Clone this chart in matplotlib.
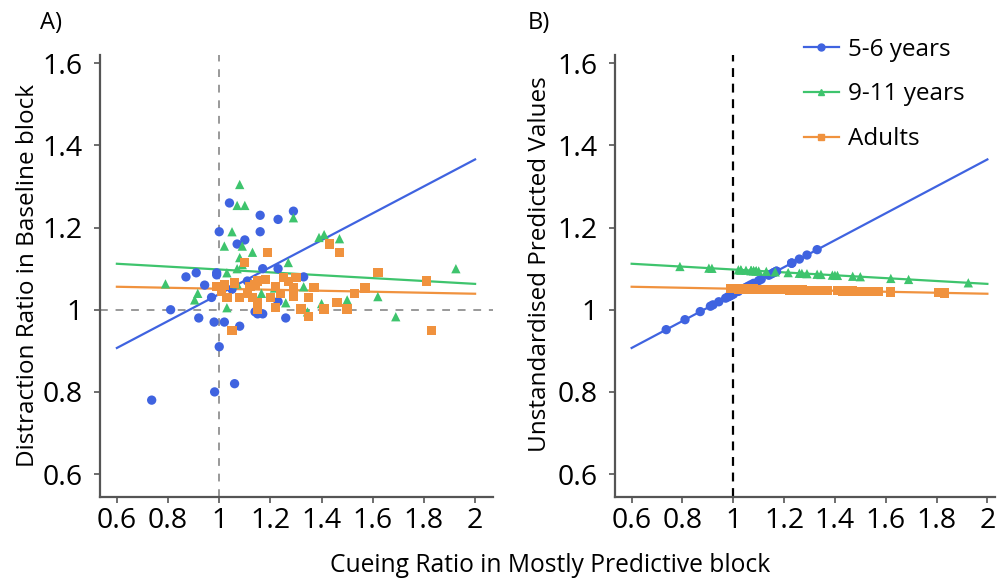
import numpy as np
import matplotlib.pyplot as plt

plt.rcParams['font.family'] = ['Open Sans', 'DejaVu Sans']

# data (cueing ratio, distraction ratio)
young_x = [0.736, 0.982, 1.06, 0.81, 0.92, 0.98, 1.02, 1.08, 1.00, 0.943, 0.97,
           1.14, 1.04, 1.00, 1.07, 1.10, 0.87, 0.91, 0.99, 1.16, 1.16, 1.23,
           1.29, 1.17, 1.23, 1.33, 1.23, 1.26, 1.15, 1.17, 1.05, 1.11, 0.99]
young_y = [0.78, 0.80, 0.82, 1.00, 0.98, 0.97, 0.97, 0.96, 0.91, 1.06, 1.03,
           0.995, 1.26, 1.19, 1.16, 1.17, 1.08, 1.09, 1.09, 1.23, 1.19, 1.22,
           1.24, 1.10, 1.10, 1.08, 1.02, 0.98, 0.99, 0.99, 1.05, 1.07, 1.085]

mid_x = [0.79, 0.904, 0.916, 1.03, 1.03, 1.02, 1.05, 1.08, 1.07, 1.10, 1.09,
         1.08, 1.07, 1.13, 1.09, 1.07, 1.165, 1.216, 1.26, 1.27, 1.29, 1.33,
         1.345, 1.39, 1.41, 1.47, 1.40, 1.50, 1.62, 1.69, 1.925]
mid_y = [1.063, 1.024, 1.04, 1.005, 1.09, 1.155, 1.19, 1.305, 1.254, 1.254, 1.155,
         1.127, 1.10, 1.14, 1.11, 1.063, 1.04, 1.053, 1.017, 1.115, 1.224, 1.056,
         0.995, 1.176, 1.183, 1.173, 1.015, 1.024, 1.032, 0.983, 1.10]

adult_x = [0.99, 1.02, 1.03, 1.05, 1.08, 1.10, 1.12, 1.14, 1.15, 1.18, 1.13,
           1.15, 1.15, 1.19, 1.20, 1.22, 1.25, 1.27, 1.30, 1.29, 1.29, 1.22,
           1.32, 1.35, 1.35, 1.37, 1.41, 1.46, 1.50, 1.53, 1.57, 1.43, 1.47,
           1.62, 1.81, 1.83, 1.01, 1.06, 1.24, 1.11]
adult_y = [1.056, 1.06, 1.03, 0.95, 1.03, 1.115, 1.056, 1.06, 1.07, 1.073, 1.03,
           1.017, 1.002, 1.14, 1.03, 1.056, 1.078, 1.068, 1.078, 1.054, 1.032, 1.005,
           1.002, 0.983, 1.03, 1.054, 1.002, 1.017, 1.002, 1.04, 1.053, 1.16, 1.14,
           1.09, 1.07, 0.95, 1.045, 1.065, 1.04, 1.04]

# fitted lines, value at x = 0.6 and x = 2.0
fit_x = [0.6, 2.0]
young_fit = [0.907, 1.366]
mid_fit = [1.112, 1.063]
adult_fit = [1.056, 1.039]

labels = ['5-6 years', '9-11 years', 'Adults']
colors = ['#3f63e0', '#3ec46d', '#f0923e']
markers = ['o', '^', 's']

groups = [(young_x, young_y, young_fit), (mid_x, mid_y, mid_fit), (adult_x, adult_y, adult_fit)]

fig = plt.figure(figsize=(10.01, 5.8), dpi=100)
ax1 = fig.add_axes([0.0999, 0.143, 0.3926, 0.762])
ax2 = fig.add_axes([0.614, 0.143, 0.380, 0.762])

# A) raw data
ax1.axvline(1, color='#999999', ls=(0, (4, 4)), lw=1.4, zorder=1)
ax1.axhline(1, color='#999999', ls=(0, (4, 4)), lw=1.4, zorder=1)
for (x, y, f), c, m in zip(groups, colors, markers):
    ax1.scatter(x, y, s=45, color=c, marker=m, edgecolors='none', zorder=3)
    ax1.plot(fit_x, f, color=c, lw=1.6, zorder=2)

# B) predicted values
ax2.axvline(1, color='black', ls=(0, (4, 3)), lw=1.6, zorder=1)
for (x, y, f), c, m, lab in zip(groups, colors, markers, labels):
    slope = (f[1] - f[0]) / (fit_x[1] - fit_x[0])
    pred = f[0] + slope * (np.array(x) - fit_x[0])
    ax2.plot(fit_x, f, color=c, lw=1.6, zorder=2)
    ax2.scatter(x, pred, s=45, color=c, marker=m, edgecolors='none', zorder=3)
    ax2.plot([], [], color=c, marker=m, ms=5, lw=1.6, label=lab)

for ax in (ax1, ax2):
    ax.set_ylim(0.544, 1.62)
    ax.set_xticks([0.6, 0.8, 1, 1.2, 1.4, 1.6, 1.8, 2])
    ax.set_xticklabels(['0.6', '0.8', '1', '1.2', '1.4', '1.6', '1.8', '2'])
    ax.set_yticks([0.6, 0.8, 1, 1.2, 1.4, 1.6])
    ax.set_yticklabels(['0.6', '0.8', '1', '1.2', '1.4', '1.6'])
    for s in ('top', 'right'):
        ax.spines[s].set_visible(False)
    for s in ('left', 'bottom'):
        ax.spines[s].set_color('#555555')
        ax.spines[s].set_linewidth(1.6)
    ax.tick_params(labelsize=20.5, color='#555555', length=4, width=1.2)
    ax.tick_params(axis='x', pad=3)
    ax.tick_params(axis='y', pad=8.5)

ax1.set_xlim(0.534, 2.07)
ax2.set_xlim(0.533, 2.03)

ax1.set_ylabel('Distraction Ratio in Baseline block', fontsize=17.5)
ax2.set_ylabel('Unstandardised Predicted Values', fontsize=17.5)
ax1.yaxis.set_label_coords(-0.153, 0.502)
ax2.yaxis.set_label_coords(-0.165, 0.527)
fig.text(0.55, 0.013, 'Cueing Ratio in Mostly Predictive block', fontsize=17.7, ha='center')
fig.text(0.04, 0.95, 'A)', fontsize=17)
fig.text(0.527, 0.95, 'B)', fontsize=17)

ax2.legend(loc='upper left', bbox_to_anchor=(0.803, 0.935), bbox_transform=fig.transFigure,
           frameon=False, fontsize=17.5, borderpad=0, borderaxespad=0,
           handlelength=1.45, labelspacing=0.85, handletextpad=0.35)

fig.savefig('out.png', dpi=100)
